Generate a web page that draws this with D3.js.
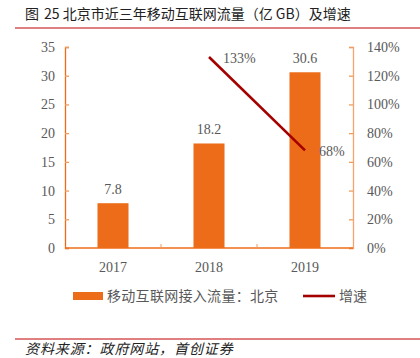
<!DOCTYPE html>
<html><head><meta charset="utf-8">
<script src="https://cdn.jsdelivr.net/npm/d3@7"></script>
<style>body{margin:0;background:#fff}svg{display:block}</style>
</head><body>
<script>
const categories = ["2017","2018","2019"];
const traffic = [7.8, 18.2, 30.6];
const growthYears = ["2018","2019"];
const growth = [133, 68];
const leftTicks = [0,5,10,15,20,25,30,35];
const rightTicks = [0,20,40,60,80,100,120,140];

const W=420,H=358;
const svg=d3.select("body").append("svg").attr("width",W).attr("height",H);
const m={l:65,r:353,t:47,b:248};
const x=d3.scaleBand().domain(categories).range([m.l,m.r]);
const yL=d3.scaleLinear().domain([0,35]).range([m.b,m.t]);
const yR=d3.scaleLinear().domain([0,140]).range([m.b,m.t]);
const serif="'Liberation Serif','Times New Roman',serif";
const cjk="'Noto Sans CJK SC',sans-serif";
const grey="#595959";

// title
svg.append("text").attr("x",25).attr("y",19).attr("font-family",cjk).attr("font-size",14).attr("fill","#222").text("图");
svg.append("text").attr("x",44).attr("y",19).attr("font-family",cjk).attr("font-size",14).attr("fill","#222")
  .text("25 北京市近三年移动互联网流量（亿 GB）及增速");
svg.append("line").attr("x1",15).attr("x2",420).attr("y1",28).attr("y2",28).attr("stroke","#C00000").attr("stroke-width",1.2);

// bars
const bw=31;
svg.selectAll("rect.bar").data(traffic).enter().append("rect")
  .attr("x",(d,i)=>x(categories[i])+x.bandwidth()/2-bw/2).attr("width",bw)
  .attr("y",d=>yL(d)).attr("height",d=>m.b-yL(d)).attr("fill","#EC6C19");
svg.selectAll("text.bl").data(traffic).enter().append("text")
  .attr("x",(d,i)=>x(categories[i])+x.bandwidth()/2).attr("y",d=>yL(d)-9)
  .attr("text-anchor","middle").attr("font-family",serif).attr("font-size",14).attr("fill",grey)
  .text(d=>d.toFixed(1));

// left axis
const gl=svg.append("g").attr("transform",`translate(${m.l},0)`)
  .call(d3.axisLeft(yL).tickValues(leftTicks).tickSize(-4).tickPadding(10));
gl.select(".domain").attr("stroke","#EC6C19").attr("stroke-width",1.3);
gl.selectAll(".tick line").attr("stroke","#F19B5E").attr("stroke-width",1.3);
gl.selectAll("text").attr("font-family",serif).attr("font-size",14).attr("fill",grey);

// right axis
const gr=svg.append("g").attr("transform",`translate(${m.r},0)`)
  .call(d3.axisRight(yR).tickValues(rightTicks).tickSize(-4).tickPadding(14).tickFormat(d=>d+"%"));
gr.select(".domain").attr("stroke","#F4A46C").attr("stroke-width",1.3);
gr.selectAll(".tick line").attr("stroke","#F19B5E").attr("stroke-width",1.3);
gr.selectAll("text").attr("font-family",serif).attr("font-size",14).attr("fill",grey);

// bottom axis
svg.append("line").attr("x1",m.l).attr("x2",m.r).attr("y1",m.b).attr("y2",m.b).attr("stroke","#EC6C19").attr("stroke-width",1.3);
svg.selectAll("line.xt").data(categories.slice(1)).enter().append("line")
  .attr("x1",d=>x(d)).attr("x2",d=>x(d)).attr("y1",m.b).attr("y2",m.b-4).attr("stroke","#F19B5E").attr("stroke-width",1);
svg.selectAll("text.xl").data(categories).enter().append("text")
  .attr("x",d=>x(d)+x.bandwidth()/2).attr("y",m.b+24).attr("text-anchor","middle")
  .attr("font-family",serif).attr("font-size",14).attr("fill",grey).text(d=>d);

// line
const line=d3.line().x((d,i)=>x(growthYears[i])+x.bandwidth()/2).y(d=>yR(d));
svg.append("path").datum(growth).attr("d",line).attr("fill","none").attr("stroke","#A50000").attr("stroke-width",2.6);
svg.selectAll("text.gl").data(growth).enter().append("text")
  .attr("x",(d,i)=>x(growthYears[i])+x.bandwidth()/2+14).attr("y",d=>yR(d)+6)
  .attr("font-family",serif).attr("font-size",14).attr("fill",grey).text(d=>d+"%");

// legend
svg.append("rect").attr("x",73).attr("y",292).attr("width",30).attr("height",8).attr("fill","#EC6C19");
svg.append("text").attr("x",107).attr("y",301).attr("font-family",cjk).attr("font-size",14).attr("letter-spacing",0.3).attr("fill",grey).text("移动互联网接入流量：北京");
svg.append("line").attr("x1",303).attr("x2",335).attr("y1",296).attr("y2",296).attr("stroke","#A50000").attr("stroke-width",2.6);
svg.append("text").attr("x",339).attr("y",301).attr("font-family",cjk).attr("font-size",14).attr("fill",grey).text("增速");

// footer
svg.append("line").attr("x1",15).attr("x2",420).attr("y1",339).attr("y2",339).attr("stroke","#C00000").attr("stroke-width",1.2);
svg.append("text").attr("x",25).attr("y",354).attr("font-family",cjk).attr("font-size",14).attr("letter-spacing",0.9).attr("font-style","italic").attr("fill","#222")
  .text("资料来源：政府网站，首创证券");
</script>
</body></html>
